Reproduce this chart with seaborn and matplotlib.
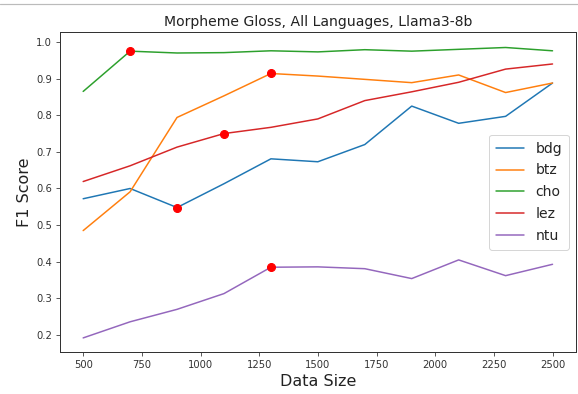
import numpy as np
import pandas as pd
import matplotlib
matplotlib.use("Agg")
import matplotlib.pyplot as plt
from matplotlib.lines import Line2D
import seaborn as sns

# Training-set sizes and per-language F1 scores
data_sizes = [500, 700, 900, 1100, 1300, 1500, 1700, 1900, 2100, 2300, 2500]
languages = ["bdg", "btz", "cho", "lez", "ntu"]
bdg = [0.572, 0.600, 0.548, 0.613, 0.681, 0.673, 0.720, 0.825, 0.778, 0.797, 0.888]
btz = [0.485, 0.591, 0.794, 0.853, 0.914, 0.907, 0.898, 0.889, 0.910, 0.862, 0.888]
cho = [0.865, 0.975, 0.970, 0.971, 0.976, 0.973, 0.979, 0.975, 0.980, 0.985, 0.976]
lez = [0.619, 0.662, 0.713, 0.750, 0.767, 0.790, 0.840, 0.864, 0.890, 0.926, 0.940]
ntu = [0.192, 0.236, 0.270, 0.313, 0.385, 0.386, 0.381, 0.354, 0.405, 0.362, 0.393]
# Selected data size for each language (marked in red)
selected_size = [900, 1300, 700, 1100, 1300]

scores = {"bdg": bdg, "btz": btz, "cho": cho, "lez": lez, "ntu": ntu}
df = pd.DataFrame(
    [(lang, n, s) for lang in languages for n, s in zip(data_sizes, scores[lang])],
    columns=["language", "size", "f1"],
)
sel = df[[df.loc[i, "size"] == selected_size[languages.index(df.loc[i, "language"])]
          for i in df.index]]

sns.set_style("ticks")
plt.rcParams["font.family"] = ["DejaVu Sans"]

fig = plt.figure(figsize=(578 / 72, 394 / 72), dpi=72)
ax = fig.add_axes([59.7 / 578, 1 - 352.3 / 394, (576 - 59.7) / 578, (352.3 - 32.3) / 394])

sns.lineplot(data=df, x="size", y="f1", hue="language", hue_order=languages,
             palette="tab10", linewidth=1.5, ax=ax)
ax.plot(sel["size"], sel["f1"], "o", color="red", markersize=8, zorder=5)

for sp in ax.spines.values():
    sp.set_visible(True)
    sp.set_color("#333333")
    sp.set_linewidth(1.0)
ax.tick_params(labelsize=10, colors="#333333", length=4)
ax.set_title("Morpheme Gloss, All Languages, Llama3-8b", fontsize=14, color="#222222")
ax.set_xlabel("Data Size", fontsize=16, color="#222222")
ax.set_ylabel("F1 Score", fontsize=16, color="#222222")
ax.set_xticks([500, 750, 1000, 1250, 1500, 1750, 2000, 2250, 2500])
ax.set_yticks([0.2, 0.3, 0.4, 0.5, 0.6, 0.7, 0.8, 0.9, 1.0])
ax.set_xlim(400, 2600)
ax.set_ylim(0.1527, 1.0265)

leg = ax.legend(loc="center right", fontsize=14, frameon=True,
                labelspacing=0.56, borderpad=0.5)
leg.get_frame().set_edgecolor("#cccccc")

fig.add_artist(Line2D([0, 1], [1 - 3.5 / 394, 1 - 3.5 / 394], color="#bbbbbb",
                      linewidth=1.2, transform=fig.transFigure))

fig.savefig("out.png", dpi=72)
